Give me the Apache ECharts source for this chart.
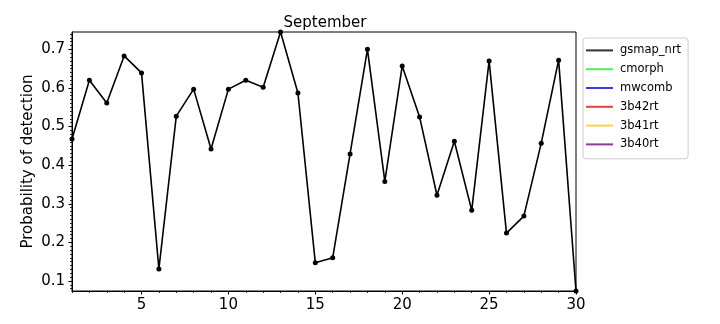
<!DOCTYPE html>
<html>
<head>
<meta charset="utf-8">
<script src="https://cdn.jsdelivr.net/npm/echarts@6/dist/echarts.min.js"></script>
<style>html,body{margin:0;padding:0;background:#fff;}#c{width:720px;height:324px;}</style>
</head>
<body>
<div id="c"></div>
<script>
const days = [1,2,3,4,5,6,7,8,9,10,11,12,13,14,15,16,17,18,19,20,21,22,23,24,25,26,27,28,29,30];
const gsmapNrt = [0.468,0.620,0.561,0.683,0.639,0.131,0.527,0.597,0.442,0.597,0.620,0.602,0.745,0.587,0.147,0.160,0.429,0.700,0.358,0.657,0.525,0.322,0.462,0.283,0.670,0.224,0.268,0.457,0.672,0.074];
const seriesNames = ['gsmap_nrt','cmorph','mwcomb','3b42rt','3b41rt','3b40rt'];
const seriesColors = ['#000000','#00ff00','#0000ff','#ff0000','#ffd700','#800080'];
const legendColors = ['#333333','#55ee55','#3c3cdd','#dd4444','#f5d645','#933a93'];
const xTickLabels = [5,10,15,20,25,30];
const yTickLabels = [0.1,0.2,0.3,0.4,0.5,0.6,0.7];

const yMin = Math.min(...gsmapNrt), yMax = Math.max(...gsmapNrt);
const yMinor = [];
for (let v = Math.ceil(yMin*100); v <= Math.floor(yMax*100); v++) yMinor.push(v/100);

const font = 'DejaVu Sans';
const series = seriesNames.map((n,i) => ({
  name: n, type: 'line',
  data: i === 0 ? days.map((d,k) => [d, gsmapNrt[k]]) : [],
  color: legendColors[i],
  lineStyle: {color: seriesColors[i], width: 1.6},
  itemStyle: {color: seriesColors[i]},
  symbol: 'circle', symbolSize: 5, showSymbol: true,
  clip: true, animation: false, xAxisIndex: 0, yAxisIndex: 0
}));

const chart = echarts.init(document.getElementById('c'), null, {renderer: 'canvas'});
chart.setOption({
  animation: false,
  title: {text: 'September', left: 320, textAlign: 'center', top: 11,
    textStyle: {fontFamily: font, fontSize: 15, fontWeight: 'normal', color: '#000'}},
  grid: {left: 72, right: 144, top: 32, bottom: 33, show: true, borderColor: '#000', borderWidth: 1, backgroundColor: 'transparent'},
  legend: {
    orient: 'vertical', left: 583, top: 38,
    padding: [3, 7, 5, 3], itemGap: 0, itemWidth: 27, itemHeight: 2, icon: 'rect',
    backgroundColor: '#fff', borderColor: '#cccccc', borderWidth: 1, borderRadius: 3,
    data: seriesNames.map((n,i) => ({name: n, itemStyle: {color: legendColors[i]}})),
    textStyle: {fontFamily: font, fontSize: 11.5, color: '#000', lineHeight: 18.8, padding: [0,0,0,2]},
    selectedMode: false
  },
  xAxis: [
    {type: 'value', min: 1, max: 30, position: 'bottom',
      axisLine: {show: true, lineStyle: {color: '#000', width: 1}},
      axisTick: {show: true, customValues: xTickLabels, length: 3.5, lineStyle: {color: '#000'}},
      axisLabel: {customValues: xTickLabels, margin: 7, fontFamily: font, fontSize: 15, color: '#000'},
      splitLine: {show: false}},
    {type: 'value', min: 1, max: 30, position: 'bottom',
      axisLine: {show: false},
      axisTick: {show: true, customValues: days, length: 2, lineStyle: {color: '#000', width: 0.8}},
      axisLabel: {show: false}, splitLine: {show: false}}
  ],
  yAxis: [
    {type: 'value', min: yMin, max: yMax, position: 'left',
      axisLine: {show: true, lineStyle: {color: '#000', width: 1}},
      axisTick: {show: true, customValues: yTickLabels, length: 3.5, lineStyle: {color: '#000'}},
      axisLabel: {customValues: yTickLabels, margin: 7, fontFamily: font, fontSize: 15, color: '#000',
        formatter: v => v.toFixed(1)},
      splitLine: {show: false},
      name: 'Probability of detection', nameLocation: 'middle', nameGap: 36, nameRotate: 90,
      nameMoveOverlap: false,
      nameTextStyle: {fontFamily: font, fontSize: 15, color: '#000'}},
    {type: 'value', min: yMin, max: yMax, position: 'left',
      axisLine: {show: false},
      axisTick: {show: true, customValues: yMinor, length: 2, lineStyle: {color: '#000', width: 0.8}},
      axisLabel: {show: false}, splitLine: {show: false}}
  ],
  series: series
});
</script>
</body>
</html>
